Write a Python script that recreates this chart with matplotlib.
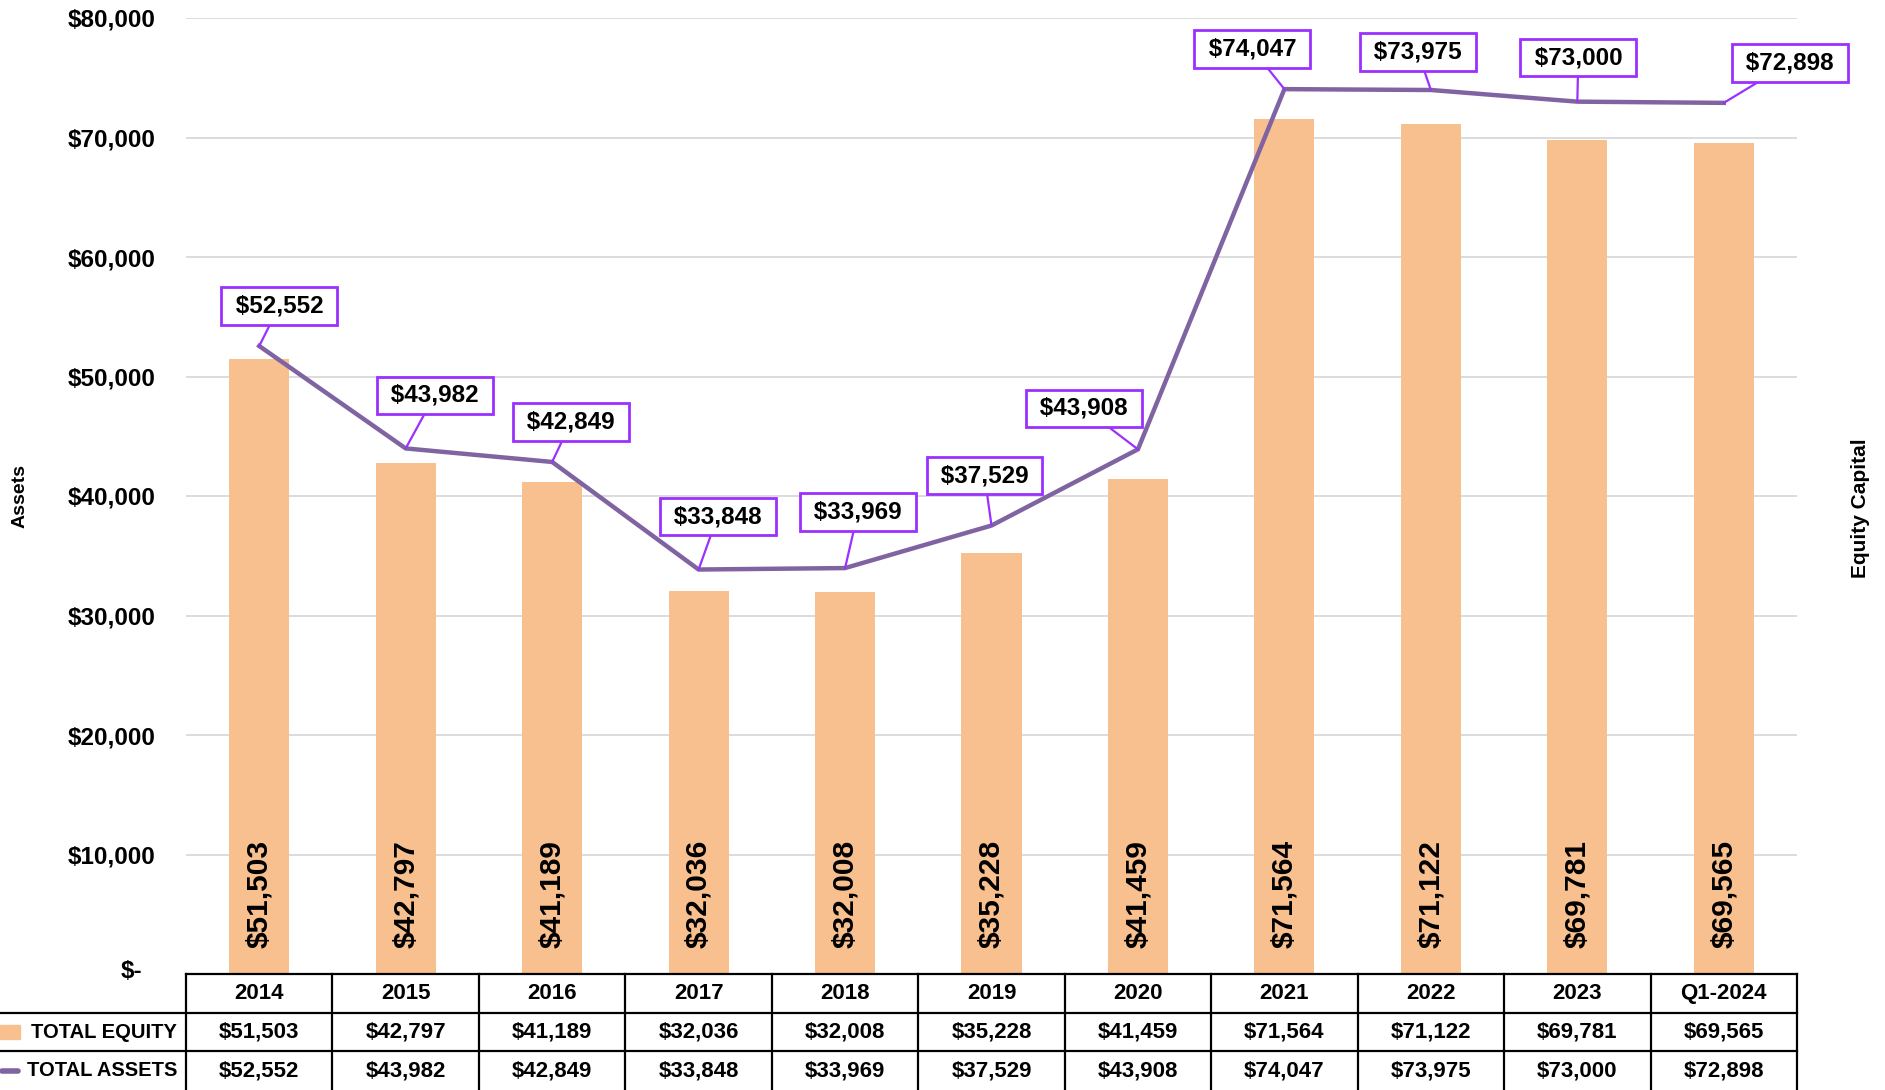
import matplotlib
matplotlib.use("Agg")
import matplotlib.pyplot as plt
from matplotlib.lines import Line2D
from matplotlib.patches import Rectangle
import matplotlib.transforms as mtransforms

plt.rcParams['font.family'] = ['Liberation Sans', 'DejaVu Sans']
plt.rcParams['font.weight'] = 'bold'

# data
periods = ['2014', '2015', '2016', '2017', '2018', '2019', '2020', '2021', '2022', '2023', 'Q1-2024']
total_equity = [51503, 42797, 41189, 32036, 32008, 35228, 41459, 71564, 71122, 69781, 69565]
total_assets = [52552, 43982, 42849, 33848, 33969, 37529, 43908, 74047, 73975, 73000, 72898]
yticks = [0, 10000, 20000, 30000, 40000, 50000, 60000, 70000, 80000]

# label box offsets (pixels) for the assets callouts
label_offsets = [(20, 40), (29, 53), (19, 40), (19, 53), (13, 56), (-7, 50),
                 (-54, 41), (-32, 40), (-13, 38), (1, 44), (66, 40)]

bar_color = '#F9C08F'
line_color = '#8064A2'
box_color = '#9B30FF'

W, H = 1885, 1090
fig = plt.figure(figsize=(W / 100, H / 100), dpi=100)

left, right, top, bottom = 186, 1797, 18, 974
ax = fig.add_axes([left / W, (H - bottom) / H, (right - left) / W, (bottom - top) / H])
x = list(range(len(periods)))

ax.bar(x, total_equity, width=0.41, color=bar_color, zorder=2)
ax.plot(x, total_assets, color=line_color, lw=3.2, zorder=3, solid_joinstyle='miter')

ax.set_xlim(-0.5, len(periods) - 0.5)
ax.set_ylim(0, 80000)
ax.set_yticks(yticks)
ax.set_yticklabels(['' if v == 0 else '${:,}'.format(v) for v in yticks], fontsize=17.5)
ax.tick_params(axis='y', length=0, pad=22)
ax.tick_params(axis='x', length=0, labelbottom=False)
ax.grid(axis='y', color='#D9D9D9', lw=1.3, zorder=0)
for s in ax.spines.values():
    s.set_visible(False)

trans = mtransforms.blended_transform_factory(ax.transAxes, ax.transData)
ax.text(-0.027, 200, '$-', transform=trans, ha='right', va='center', fontsize=17.5)

# bar value labels (rotated, at the base)
for xi, v in zip(x, total_equity):
    ax.annotate('${:,}'.format(v), (xi, 0), xytext=(0, 26), textcoords='offset pixels',
                rotation=90, ha='center', va='bottom', fontsize=21.5, zorder=4)

# boxed callouts for assets
for xi, v, off in zip(x, total_assets, label_offsets):
    ax.annotate(' ${:,} '.format(v), (xi, v), xytext=off, textcoords='offset pixels',
                ha='center', va='center', fontsize=17.5, zorder=5, annotation_clip=False,
                bbox=dict(boxstyle='square,pad=0.3', fc='white', ec=box_color, lw=2),
                arrowprops=dict(arrowstyle='-', color=box_color, lw=1.6, shrinkA=0, shrinkB=0))

fig.text(20 / W, 1 - 496 / H, 'Assets', rotation=90, ha='center', va='center', fontsize=14)
fig.text(1860 / W, 1 - 508 / H, 'Equity Capital', rotation=90, ha='center', va='center', fontsize=15)

# data table below the plot
tax = fig.add_axes([left / W, 0, (right - left) / W, (H - bottom) / H])
tax.set_xlim(-0.5, len(periods) - 0.5)
tax.set_ylim(0, 3)
tax.axis('off')
col_w = (right - left) / len(periods)
x_edge = -0.5 - left / col_w

lw = 1.6
tax.add_line(Line2D([-0.5, len(periods) - 0.5], [3, 3], color='black', lw=lw, clip_on=False))
for yy in (2, 1):
    tax.add_line(Line2D([x_edge, len(periods) - 0.5], [yy, yy], color='black', lw=lw, clip_on=False))
for i in range(len(periods) + 1):
    tax.add_line(Line2D([i - 0.5, i - 0.5], [0, 3], color='black', lw=lw, clip_on=False))

for xi, p, e, a in zip(x, periods, total_equity, total_assets):
    tax.text(xi, 2.5, p, ha='center', va='center', fontsize=16)
    tax.text(xi, 1.5, '${:,}'.format(e), ha='center', va='center', fontsize=16)
    tax.text(xi, 0.5, '${:,}'.format(a), ha='center', va='center', fontsize=16)

label_x = -0.5 - 9 / col_w
tax.text(label_x, 1.5, 'TOTAL EQUITY', ha='right', va='center', fontsize=14.5, clip_on=False)
tax.text(label_x, 0.5, 'TOTAL ASSETS', ha='right', va='center', fontsize=14.5, clip_on=False)
tax.add_patch(Rectangle((x_edge, 1.33), 20 / col_w, 0.36, color=bar_color, clip_on=False))
tax.add_line(Line2D([x_edge + 2 / col_w, x_edge + 18 / col_w], [0.5, 0.5], color=line_color, lw=4,
                    solid_capstyle='round', clip_on=False))

fig.savefig('out.png', dpi=100)
